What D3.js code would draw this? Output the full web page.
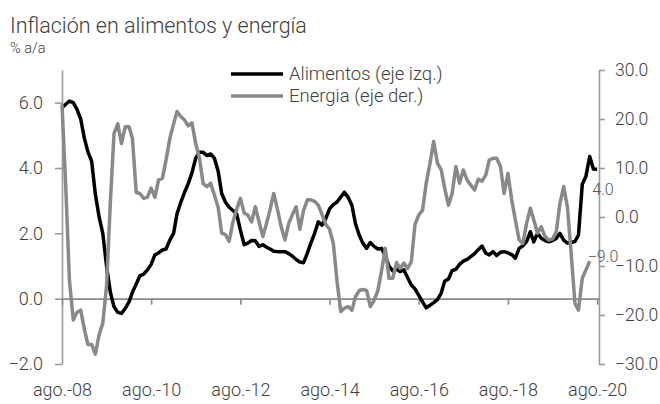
<!DOCTYPE html>
<html>
<head>
<meta charset="utf-8">
<script src="https://cdn.jsdelivr.net/npm/d3@7"></script>
<style>
  body { margin: 0; background: #fff; }
  text { font-family: Roboto, "Liberation Sans", Arial, sans-serif; font-weight: 300; }
</style>
</head>
<body>
<div id="chart"></div>
<script>
// Monthly series, first month ago-2008
const startMonth = new Date(2008, 7, 1);

// Alimentos, % a/a (left axis), ago-08 .. ago-20
const alimentos = [
  5.85, 5.95, 6.05, 6.0, 5.8, 5.5, 4.9, 4.5, 4.2, 3.2,
  2.5, 2.0, 1.0, 0.2, -0.25, -0.42, -0.45, -0.3, -0.1, 0.2,
  0.45, 0.7, 0.75, 0.88, 1.05, 1.34, 1.4, 1.49, 1.52, 1.79,
  2.0, 2.6, 2.95, 3.25, 3.52, 3.85, 4.3, 4.48, 4.48, 4.38,
  4.43, 4.3, 3.9, 3.22, 2.95, 2.8, 2.7, 2.6, 2.1, 1.65,
  1.7, 1.78, 1.77, 1.6, 1.65, 1.58, 1.52, 1.45, 1.44, 1.44,
  1.44, 1.38, 1.3, 1.2, 1.12, 1.1, 1.4, 1.7, 2.0, 2.35,
  2.25, 2.45, 2.75, 2.88, 2.96, 3.11, 3.26, 3.1, 2.85, 2.3,
  1.95, 1.7, 1.54, 1.72, 1.6, 1.52, 1.54, 1.3, 1.0, 0.85,
  0.9, 0.83, 0.88, 0.65, 0.42, 0.3, 0.1, -0.1, -0.28, -0.2,
  -0.12, -0.03, 0.17, 0.53, 0.6, 0.86, 0.9, 1.05, 1.15, 1.2,
  1.29, 1.38, 1.5, 1.61, 1.39, 1.34, 1.44, 1.32, 1.42, 1.44,
  1.4, 1.35, 1.24, 1.54, 1.62, 1.75, 2.05, 1.74, 2.0, 1.85,
  1.78, 1.74, 1.78, 1.84, 2.0, 1.79, 1.7, 1.72, 1.75, 1.95,
  3.5, 3.75, 4.35, 3.97, 3.96
];

// Energia, % a/a (right axis), ago-08 .. jun-20
const energia = [
  23, 6, -13, -21, -19.5, -19, -23, -26, -26, -28,
  -24, -21.7, -14, 3, 17, 19, 15, 18.4, 18.4, 16,
  5, 4.8, 3.8, 4.0, 5.9, 4.0, 7.6, 7.9, 11.6, 16,
  19, 21.5, 20.5, 19.8, 18.6, 19.2, 15, 12, 6.8, 6.2,
  6.9, 4.5, 2.0, -3.3, -3.6, -5.0, -1, 1.5, 3.8, 0.8,
  0.4, -1.0, 2.1, -1.0, -4.0, -1.5, 1.5, 4.8, 1.5, -2,
  -4.7, -1.3, 0.5, 2.1, -2.5, 1.4, 3.5, 3.5, 3.2, 2.4,
  0.5, -1.5, -2.5, -5.4, -13, -19.3, -18.6, -18.3, -19, -16.3,
  -15, -14.8, -15, -18.3, -17, -15, -11, -6.4, -12.5, -12.5,
  -9.3, -10.5, -9.4, -10.5, -9.1, -1.5, 0.4, 1.4, 6.9, 11,
  15.4, 11, 9.6, 5.9, 2.4, 4.8, 10.3, 6.9, 9.6, 7.5,
  6.5, 5.5, 7.7, 7.3, 8.6, 11.6, 12, 12, 10.3, 4.8,
  8.9, 3.5, -0.6, -4.7, -5.4, -1.3, 1.8, -0.6, -3.3, -2.0,
  -4.0, -4.7, -4.5, -3.0, 2.8, 6.2, 2.1, -7.4, -17.6, -19,
  -12.5, -10.8, -9.0
];

const leftTicks = [-2, 0, 2, 4, 6];
const rightTicks = [-30, -20, -10, 0, 10, 20, 30];
const xTickYears = [2008, 2010, 2012, 2014, 2016, 2018, 2020];
const xTickLabels = ['ago.-08', 'ago.-10', 'ago.-12', 'ago.-14', 'ago.-16', 'ago.-18', 'ago.-20'];
const seriesNames = ['Alimentos (eje izq.)', 'Energia (eje der.)'];

const title = 'Inflación en alimentos y energía';
const subtitle = '% a/a';

const width = 660, height = 404;
const plot = { left: 62, right: 599, top: 70, bottom: 364 };
const textColor = '#404040';
const grayLine = '#898989';
const axisColor = '#9a9a9a';

const svg = d3.select('#chart')
  .append('svg')
  .attr('width', width)
  .attr('height', height);

// Scales
const x = d3.scaleTime()
  .domain([startMonth, new Date(2020, 7, 16)])
  .range([plot.left, plot.right]);
const yL = d3.scaleLinear().domain([-2, 7]).range([plot.bottom, plot.top]);
const yR = d3.scaleLinear().domain([-30, 30]).range([plot.bottom, plot.top]);

const monthAt = i => d3.timeMonth.offset(startMonth, i);
const tickDates = xTickYears.map(y => new Date(y, 7, 1));

// Titles
svg.append('text')
  .attr('x', 10).attr('y', 33)
  .attr('fill', textColor)
  .attr('font-size', '21.5px')
  .text(title);

svg.append('text')
  .attr('x', 10).attr('y', 53)
  .attr('fill', textColor)
  .attr('font-size', '14.5px')
  .text(subtitle);

// Left axis
const leftAxis = svg.append('g')
  .attr('transform', `translate(${plot.left},0)`)
  .call(d3.axisLeft(yL)
    .tickValues(leftTicks)
    .tickSize(7)
    .tickSizeOuter(0)
    .tickPadding(12)
    .tickFormat(d3.format('.1f')));

// Right axis
const rightAxis = svg.append('g')
  .attr('transform', `translate(${plot.right},0)`)
  .call(d3.axisRight(yR)
    .tickValues(rightTicks)
    .tickSize(6)
    .tickSizeOuter(0)
    .tickPadding(10)
    .tickFormat(d3.format('.1f')));

[leftAxis, rightAxis].forEach(g => {
  g.select('.domain').attr('stroke', axisColor).attr('stroke-width', 1.6);
  g.selectAll('.tick line').attr('stroke', axisColor).attr('stroke-width', 1.6);
  g.selectAll('text')
    .attr('fill', textColor)
    .attr('font-size', '18px')
    .attr('font-family', null);
});

// keep the widest right labels inside the frame
rightAxis.selectAll('text').attr('font-size', '17.5px');

// X axis line sits on zero of the left axis
const xAxis = svg.append('g')
  .attr('transform', `translate(0,${yL(0)})`)
  .call(d3.axisBottom(x)
    .tickValues(tickDates)
    .tickSize(6)
    .tickSizeOuter(0)
    .tickFormat(''));

xAxis.select('.domain').attr('stroke', '#8a8a8a').attr('stroke-width', 1.6);
xAxis.selectAll('.tick line').attr('stroke', '#8a8a8a').attr('stroke-width', 1.6);

// X labels at the bottom of the plot
const xLabels = svg.append('g')
  .attr('transform', `translate(0,${plot.bottom})`)
  .call(d3.axisBottom(x)
    .tickValues(tickDates)
    .tickSize(0)
    .tickPadding(19)
    .tickFormat((d, i) => xTickLabels[i]));

xLabels.select('.domain').remove();
xLabels.selectAll('text')
  .attr('fill', textColor)
  .attr('font-size', '18px')
  .attr('font-family', null);

// Lines
const lineL = d3.line()
  .x((d, i) => x(monthAt(i)))
  .y(d => yL(d));

const lineR = d3.line()
  .x((d, i) => x(monthAt(i)))
  .y(d => yR(d));

svg.append('path')
  .datum(alimentos)
  .attr('fill', 'none')
  .attr('stroke', '#000')
  .attr('stroke-width', 3.5)
  .attr('stroke-linejoin', 'round')
  .attr('d', lineL);

svg.append('path')
  .datum(energia)
  .attr('fill', 'none')
  .attr('stroke', grayLine)
  .attr('stroke-width', 3.5)
  .attr('stroke-linejoin', 'round')
  .attr('d', lineR);

// Last-value labels
const lastA = alimentos.length - 1;
const lastE = energia.length - 1;

svg.append('text')
  .attr('x', x(monthAt(lastA)) - 5)
  .attr('y', yL(alimentos[lastA]) + 26)
  .attr('fill', '#595959')
  .attr('font-size', '16px')
  .text(d3.format('.1f')(alimentos[lastA]));

svg.append('text')
  .attr('x', x(monthAt(lastE)) - 2)
  .attr('y', yR(energia[lastE]) + 1)
  .attr('fill', '#595959')
  .attr('font-size', '16px')
  .text(d3.format('.1f')(energia[lastE]));

// Legend
const legend = svg.append('g').attr('transform', 'translate(231,0)');
const legendItems = [
  { name: seriesNames[0], color: '#000', y: 80 },
  { name: seriesNames[1], color: grayLine, y: 102 }
];

legendItems.forEach(item => {
  legend.append('line')
    .attr('x1', 0).attr('x2', 52)
    .attr('y1', item.y - 6).attr('y2', item.y - 6)
    .attr('stroke', item.color)
    .attr('stroke-width', 3.5);
  legend.append('text')
    .attr('x', 58).attr('y', item.y)
    .attr('fill', textColor)
    .attr('font-size', '18.5px')
    .text(item.name);
});
</script>
</body>
</html>
